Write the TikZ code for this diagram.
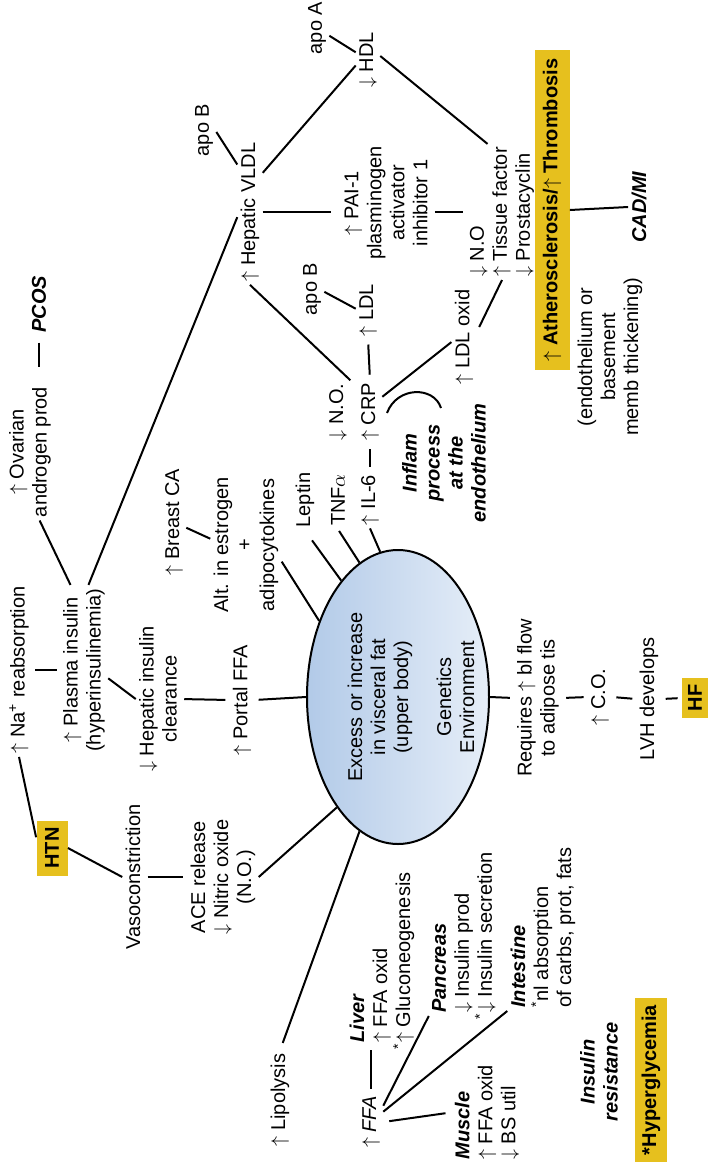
\documentclass[tikz,border=0pt]{standalone}
\usepackage{fontspec}
\setmainfont{Liberation Sans}
\usetikzlibrary{shapes.geometric}

\definecolor{hiyellow}{RGB}{230,192,30}
\definecolor{fatdark}{RGB}{178,202,232}
\definecolor{fatlight}{RGB}{230,238,248}

\newcommand{\UP}{$\uparrow$ }
\newcommand{\DN}{$\downarrow$ }

\tikzset{
  lbl/.style={rotate=90, align=center, inner sep=1.5pt, font=\fontsize{10}{11.5}\selectfont},
  lbll/.style={lbl, align=left},
  bfit/.style={lbl, font=\fontsize{10}{11.5}\selectfont\bfseries\itshape},
  hilite/.style={lbl, fill=hiyellow, inner sep=0pt, font=\fontsize{10}{11.5}\selectfont\bfseries},
  link/.style={line width=1pt},
  gap/.style={shorten <=#1, shorten >=#1}
}

\begin{document}
\begin{tikzpicture}[x=0.5pt,y=-0.5pt]
\useasboundingbox (0,0) rectangle (712,1162);

% lipids, clotting, endothelium
\node[lbl] (apoA) at (317,28) {apo A};
\node[lbl] (hdl) at (368,60) {\DN HDL};
\node[lbl] (apoB1) at (204,130) {apo B};
\node[lbl] (vldl) at (250,212) {\UP Hepatic VLDL};
\node[lbl] (pai) at (386,203) {\UP PAI-1\\plasminogen\\activator\\inhibitor 1};
\node[lbll, anchor=west] (tf) at (502,280) {\DN N.O\\\UP Tissue factor\\\DN Prostacyclin};
\node[lbl] (apoB2) at (312,289) {apo B};
\node[lbl] (ldl) at (368,310) {\UP LDL};
\node[lbl] (ldlox) at (464,337) {\UP LDL oxid};
\node[lbl] (no) at (338,412) {\DN N.O.};
\node[lbl] (crp) at (370,412) {\UP CRP};
\node[lbl] (leptin) at (305,500) {Leptin};
\node[lbl] (tnf) at (338,500) {TNF$\alpha$};
\node[lbl] (il6) at (370,500) {\UP IL-6};
\node[bfit] (inflam) at (444,463) {Inflam\\process\\at the\\endothelium};
\node[hilite, minimum width=160pt, minimum height=17.5pt] (ather) at (552,210) {\UP Atherosclerosis/\UP Thrombosis};
\node[lbl] (endo) at (610,357) {(endothelium or\\basement\\memb thickening)};
\node[bfit] (cad) at (639,207) {CAD/MI};

% visceral fat
\node[ellipse, draw, line width=1pt, rotate=90, inner sep=0pt, minimum width=147pt, minimum height=91pt,
      left color=fatdark, right color=fatlight] (fat) at (398,697) {};
\node[lbl] (fattxt) at (411,697) {Excess or increase\\in visceral fat\\(upper body)\\[10pt]Genetics\\Environment};

% heart
\node[lbl] (req) at (538,698) {Requires \UP bl flow\\to adipose tis};
\node[lbl] (co) at (600,697) {\UP C.O.};
\node[lbl] (lvh) at (649,699) {LVH develops};
\node[hilite, minimum width=20pt, minimum height=13pt] (hf) at (695,698) {HF};

% insulin and blood pressure
\node[lbl] (portal) at (242,700) {\UP Portal FFA};
\node[lbl] (hepins) at (158,699) {\DN Hepatic insulin\\clearance};
\node[lbl] (plasma) at (84,670) {\UP Plasma insulin\\(hyperinsulinemia)};
\node[lbl] (na) at (19,670) {\UP Na\textsuperscript{+} reabsorption};
\node[lbl] (ovarian) at (30,452) {\UP Ovarian\\androgen prod};
\node[bfit] (pcos) at (39,304) {PCOS};
\node[lbl] (breast) at (174,522) {\UP Breast CA};
\node[lbl] (alt) at (246,545) {Alt. in estrogen\\+\\adipocytokines};
\node[hilite, minimum width=27.5pt, minimum height=15.5pt] (htn) at (52,848) {HTN};
\node[lbl] (vaso) at (133,877) {Vasoconstriction};
\node[lbl] (ace) at (223,877) {ACE release\\\DN Nitric oxide\\(N.O.)};

% glucose
\node[lbl] (lipo) at (280,1100) {\UP Lipolysis};
\node[lbl] (ffa) at (371,1122) {\UP\textit{FFA}};
\node[lbll, anchor=west] (liver) at (382,1046) {\textbf{\textit{Liver}}\\\UP FFA oxid\\\llap{\textsuperscript{*}}\UP Gluconeogenesis};
\node[lbll, anchor=west] (pancreas) at (464,1016) {\textbf{\textit{Pancreas}}\\\DN Insulin prod\\\llap{\textsuperscript{*}}\DN Insulin secretion};
\node[lbll, anchor=west] (intestine) at (543,1011) {\textbf{\textit{Intestine}}\\\textsuperscript{*}nl absorption\\of carbs, prot, fats};
\node[lbll, anchor=west] (muscle) at (487,1163) {\textbf{\textit{Muscle}}\\\UP FFA oxid\\\DN BS util};
\node[bfit] (insres) at (599,1072) {Insulin\\resistance};
\node[hilite, minimum width=82.5pt, minimum height=16pt] (hyper) at (651,1080) {*Hyperglycemia};

% connectors
\draw[link] (apoA) -- (hdl);
\draw[link] (hdl.114) -- (vldl.-18);
\draw[link] (hdl.-72) -- (tf.12);
\draw[link] (apoB1.-99) -- (vldl.15);
\draw[link, shorten >=5pt] (vldl.south) -- (vldl.south -| pai.north);
\draw[link, gap=2pt] (pai.south |- vldl.south) -- (vldl.south -| tf.north);
\draw[link, shorten <=3pt] (ldlox.-70) -- (tf.west);
\draw[link] (crp.-39) -- (ldlox.112);
\draw[link, gap=2.5pt] (ldl.west) -- (crp.east);
\draw[link] (apoB2.-103) -- (ldl.84);
\draw[link] (vldl.west) -- (no.south east);
\draw[link, gap=2.5pt] (crp.west) -- (il6.east);
\draw[link] (alt.-115) -- (fat.46);
\draw[link, shorten <=6pt] (leptin.west) -- (fat.26);
\draw[link, shorten <=1pt] (tnf.west) -- (fat.16);
\draw[link] (il6.west) -- (fat.7);
\draw[link] (breast.-115) -- (alt.80);
\draw[link] (plasma.9) -- (ovarian.-172);
\draw[link] (plasma.-3) -- (vldl.112);
\draw[link, shorten <=3.5pt, shorten >=8.5pt] (pcos.west) -- (pcos.west |- ovarian.east);
\draw[link, gap=1.5pt] (na.south) -- (plasma.north);
\draw[link] (htn.56) -- (na.west);
\draw[link] (htn.south) -- (vaso.north);
\draw[link, gap=2pt] (vaso.south) -- (ace.north);
\draw[link] (ace.south) -- (fat.151);
\draw[link] (plasma.-109) -- (hepins.north);
\draw[link, gap=2pt] (hepins.south) -- (portal.north);
\draw[link, shorten <=2pt] (portal.south) -- (fat.north);
\draw[link, shorten >=2pt] (fat.south) -- (req.north);
\draw[link, gap=2pt] (req.south) -- (co.north);
\draw[link, gap=2pt] (co.south) -- (lvh.north);
\draw[link, gap=2pt] (lvh.south) -- (hf.north);
\draw[link, shorten <=4pt] (lipo.east) -- (fat.164);
\draw[link, gap=2pt] (ffa.east) -- (ffa.east |- liver.west);
\draw[link] (ffa.-37) -- (pancreas.north west);
\draw[link] (ffa.-50) -- (intestine.north west);
\draw[link, gap=3pt] (ffa.south) -- (muscle.north);
\draw[link] (ather.south) -- (cad.north);
% bracket at the endothelium
\draw[link] (387,413) .. controls (397,386) and (434,386) .. (441,408);
\end{tikzpicture}
\end{document}
